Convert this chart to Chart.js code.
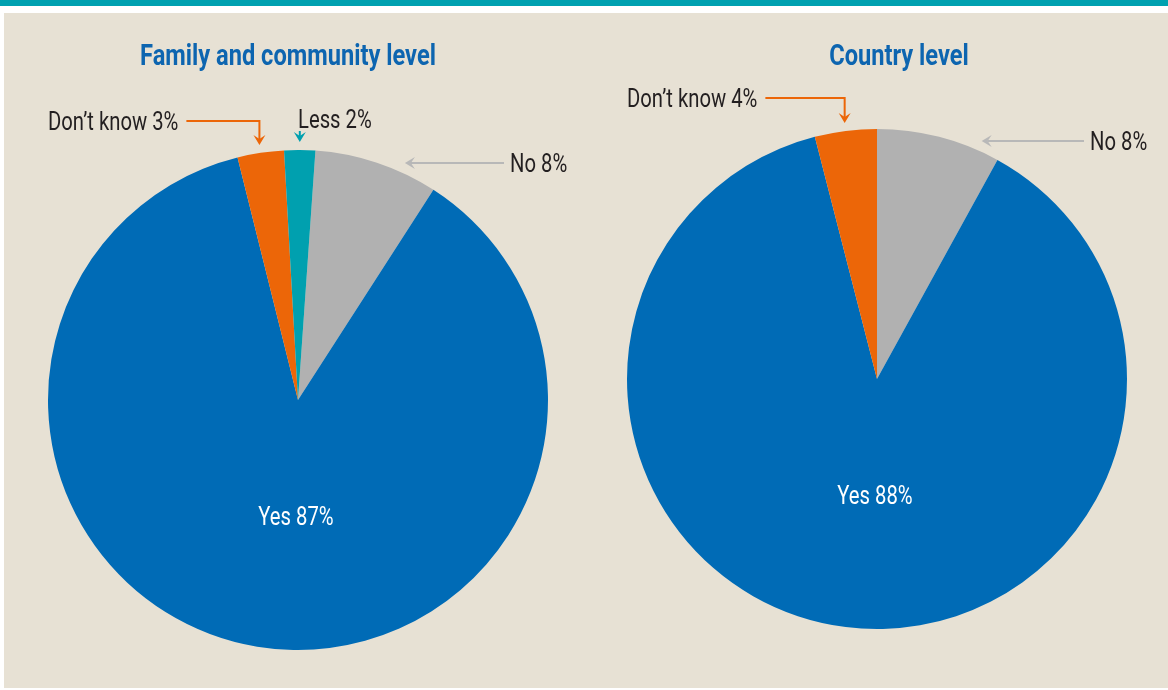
<!DOCTYPE html>
<html>
<head>
<meta charset="utf-8">
<script src="https://cdn.jsdelivr.net/npm/chart.js@4.4.0/dist/chart.umd.min.js"></script>
<style>
  html, body { margin: 0; padding: 0; background: #fff; }
  body { width: 1168px; height: 690px; position: relative; overflow: hidden; }
  #bar { position: absolute; left: 0; top: 0; width: 1168px; height: 6px; background: #00a1b0; }
  #panel { position: absolute; left: 4px; top: 13px; width: 1164px; height: 675px; background: #e7e1d4; }
  .box { position: absolute; top: 13px; height: 675px; }
</style>
</head>
<body>
<div id="bar"></div>
<div id="panel"></div>
<div class="box" style="left:4px;width:580px"><canvas id="c1"></canvas></div>
<div class="box" style="left:584px;width:584px"><canvas id="c2"></canvas></div>
<script>
// data
const familyLabels = ['No', 'Yes', 'Don’t know', 'Less'];
const familyValues = [8, 87, 3, 2];
const countryLabels = ['No', 'Yes', 'Don’t know'];
const countryValues = [8, 88, 4];

const sliceColors = {
  'No': '#b1b1b1',
  'Yes': '#006bb6',
  'Don’t know': '#ec6608',
  'Less': '#00a0af'
};
const arrowColors = {
  'No': '#b8b8b8',
  'Don’t know': '#ec6608',
  'Less': '#00a0af'
};

const FONT = "Roboto, 'Liberation Sans', sans-serif";
const SQUEEZE = 0.81;       // fake a condensed face
const TITLE_SQUEEZE = 0.815;

// where the callouts sit (canvas px, y = text baseline)
const familyNotes = {
  'No': { type: 'left', x: 506, y: 159 },
  'Yes': { type: 'inside' },
  'Don’t know': { type: 'elbow', x: 44, y: 117 },
  'Less': { type: 'down', x: 294, y: 115 }
};
const countryNotes = {
  'No': { type: 'left', x: 506, y: 137 },
  'Yes': { type: 'inside' },
  'Don’t know': { type: 'elbow', x: 43, y: 94 }
};

function squeezedText(ctx, text, x, y, sx, align) {
  ctx.save();
  ctx.translate(x, y);
  ctx.scale(sx, 1);
  ctx.textAlign = align;
  ctx.fillText(text, 0, 0);
  ctx.restore();
  return ctx.measureText(text).width * sx;
}

function arrowHead(ctx, x, y, ang, color) {
  ctx.save();
  ctx.translate(x, y);
  ctx.rotate(ang);
  ctx.fillStyle = color;
  ctx.beginPath();
  ctx.moveTo(0, 0);
  ctx.lineTo(-10, -6);
  ctx.lineTo(-6, 0);
  ctx.lineTo(-10, 6);
  ctx.closePath();
  ctx.fill();
  ctx.restore();
}

const calloutPlugin = {
  id: 'callouts',
  afterDraw(chart, args, opts) {
    const ctx = chart.ctx;
    const meta = chart.getDatasetMeta(0);
    const labels = chart.data.labels;
    const values = chart.data.datasets[0].data;

    ctx.save();
    ctx.textBaseline = 'alphabetic';
    ctx.font = 'bold 29px ' + FONT;
    ctx.fillStyle = '#0d65b0';
    squeezedText(ctx, opts.title, opts.titleX, 52, TITLE_SQUEEZE, 'center');

    ctx.font = '25px ' + FONT;
    meta.data.forEach((arc, i) => {
      const name = labels[i];
      const note = opts.notes[name];
      if (!note) return;
      const text = name + ' ' + values[i] + '%';
      const cx = arc.x, cy = arc.y, r = arc.outerRadius;
      const mid = (arc.startAngle + arc.endAngle) / 2;
      const col = arrowColors[name];
      ctx.lineWidth = 2;
      if (note.type === 'inside') {
        ctx.fillStyle = '#ffffff';
        squeezedText(ctx, text, cx - 2, cy + r * 0.5, SQUEEZE, 'center');
        return;
      }
      ctx.fillStyle = '#231f20';
      const w = squeezedText(ctx, text, note.x, note.y, SQUEEZE, 'left');
      const lineY = note.y - 9;
      ctx.strokeStyle = col;
      if (note.type === 'elbow' || note.type === 'down') {
        const tx = cx + (r + 8) * Math.cos(mid);
        const ty = cy - Math.sqrt((r + 8) * (r + 8) - (tx - cx) * (tx - cx));
        ctx.beginPath();
        if (note.type === 'elbow') {
          ctx.moveTo(note.x + w + 8, lineY);
          ctx.lineTo(tx, lineY);
        } else {
          ctx.moveTo(tx, note.y + 3);
        }
        ctx.lineTo(tx, ty - 6);
        ctx.stroke();
        arrowHead(ctx, tx, ty, Math.PI / 2, col);
      } else if (note.type === 'left') {
        const dy = lineY - cy;
        const tx = cx + Math.sqrt((r + 10) * (r + 10) - dy * dy);
        ctx.beginPath();
        ctx.moveTo(note.x - 6, lineY);
        ctx.lineTo(tx + 6, lineY);
        ctx.stroke();
        arrowHead(ctx, tx, lineY, Math.PI, col);
      }
    });
    ctx.restore();
  }
};

function makePie(id, labels, values, rotation, padding, title, titleX, notes) {
  return new Chart(document.getElementById(id), {
    type: 'pie',
    data: {
      labels: labels,
      datasets: [{
        data: values,
        backgroundColor: labels.map(l => sliceColors[l]),
        borderWidth: 0
      }]
    },
    options: {
      responsive: true,
      maintainAspectRatio: false,
      animation: false,
      rotation: rotation,
      layout: { padding: padding },
      plugins: {
        legend: { display: false },
        tooltip: { enabled: false },
        callouts: { title: title, titleX: titleX, notes: notes }
      }
    },
    plugins: [calloutPlugin]
  });
}

makePie('c1', familyLabels, familyValues, 4,
  { left: 44, right: 36, top: 137, bottom: 38 },
  'Family and community level', 284, familyNotes);
makePie('c2', countryLabels, countryValues, 0,
  { left: 43, right: 41, top: 116, bottom: 59 },
  'Country level', 315, countryNotes);
</script>
</body>
</html>
